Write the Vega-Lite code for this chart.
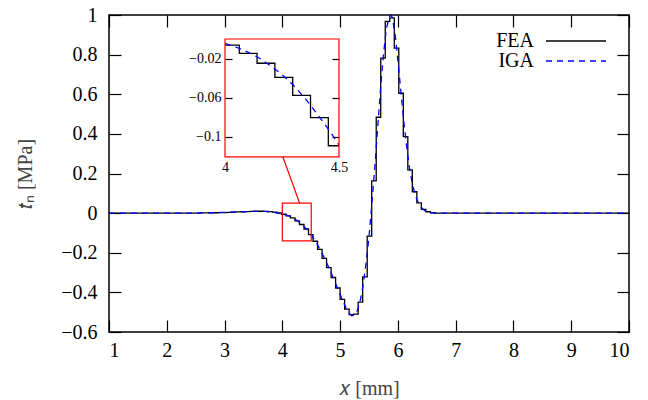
{
  "$schema": "https://vega.github.io/schema/vega-lite/v6.json",
  "width": 520,
  "height": 317,
  "autosize": {"type": "none"},
  "padding": {"left": 109, "top": 15, "right": 19, "bottom": 68},
  "background": "white",
  "config": {
    "view": {"stroke": "#000000", "strokeWidth": 1.5},
    "font": "Liberation Serif",
    "axis": {"labelFont": "Liberation Serif", "titleFont": "Liberation Serif", "labelColor": "#000000", "tickColor": "#000000", "tickWidth": 1.2, "grid": false, "domain": false, "titleFontWeight": "normal"},
    "legend": {"labelFont": "Liberation Serif", "labelFontSize": 20, "labelColor": "#000000"}
  },
  "datasets": {
    "fea": [
      {"x": 1, "y": 0}, {"x": 2.5, "y": 0}, {"x": 2.578125, "y": 0.001}, {"x": 2.734375, "y": 0.002}, {"x": 2.890625, "y": 0.003},
      {"x": 3.046875, "y": 0.004}, {"x": 3.125, "y": 0.005}, {"x": 3.203125, "y": 0.006}, {"x": 3.28125, "y": 0.007},
      {"x": 3.359375, "y": 0.008}, {"x": 3.4375, "y": 0.009}, {"x": 3.515625, "y": 0.0095}, {"x": 3.59375, "y": 0.0095},
      {"x": 3.671875, "y": 0.009}, {"x": 3.75, "y": 0.008}, {"x": 3.828125, "y": 0.005}, {"x": 3.90625, "y": 0.001},
      {"x": 3.984375, "y": -0.0057}, {"x": 4.0, "y": -0.0057}, {"x": 4.0625, "y": -0.0142}, {"x": 4.140625, "y": -0.0244},
      {"x": 4.21875, "y": -0.0388}, {"x": 4.296875, "y": -0.0573}, {"x": 4.375, "y": -0.0802}, {"x": 4.453125, "y": -0.109},
      {"x": 4.5, "y": -0.109}, {"x": 4.53125, "y": -0.142}, {"x": 4.609375, "y": -0.183}, {"x": 4.6875, "y": -0.228},
      {"x": 4.765625, "y": -0.275}, {"x": 4.84375, "y": -0.325}, {"x": 4.921875, "y": -0.378}, {"x": 5.0, "y": -0.435},
      {"x": 5.078125, "y": -0.485}, {"x": 5.15625, "y": -0.512}, {"x": 5.234375, "y": -0.51}, {"x": 5.3125, "y": -0.449},
      {"x": 5.390625, "y": -0.322}, {"x": 5.46875, "y": -0.116}, {"x": 5.546875, "y": 0.163}, {"x": 5.625, "y": 0.484},
      {"x": 5.703125, "y": 0.782}, {"x": 5.78125, "y": 0.968}, {"x": 5.859375, "y": 0.985}, {"x": 5.9375, "y": 0.833},
      {"x": 6.015625, "y": 0.605}, {"x": 6.09375, "y": 0.386}, {"x": 6.171875, "y": 0.218}, {"x": 6.25, "y": 0.108},
      {"x": 6.328125, "y": 0.052}, {"x": 6.40625, "y": 0.019}, {"x": 6.484375, "y": 0.007}, {"x": 6.5625, "y": 0.002},
      {"x": 6.640625, "y": 0}, {"x": 10, "y": 0}
    ],
    "iga": [
      {"x": 1, "y": 0}, {"x": 2, "y": 0}, {"x": 2.5, "y": 0.0005}, {"x": 2.8, "y": 0.002}, {"x": 3.0, "y": 0.004},
      {"x": 3.2, "y": 0.006}, {"x": 3.4, "y": 0.008}, {"x": 3.6, "y": 0.0095}, {"x": 3.7, "y": 0.009}, {"x": 3.8, "y": 0.006},
      {"x": 3.9, "y": 0.001}, {"x": 4.0, "y": -0.004}, {"x": 4.05, "y": -0.008}, {"x": 4.1, "y": -0.013}, {"x": 4.15, "y": -0.019},
      {"x": 4.2, "y": -0.027}, {"x": 4.25, "y": -0.036}, {"x": 4.3, "y": -0.047}, {"x": 4.35, "y": -0.06}, {"x": 4.4, "y": -0.075},
      {"x": 4.45, "y": -0.091}, {"x": 4.5, "y": -0.108}, {"x": 4.55, "y": -0.13}, {"x": 4.6, "y": -0.155}, {"x": 4.65, "y": -0.182},
      {"x": 4.7, "y": -0.21}, {"x": 4.75, "y": -0.24}, {"x": 4.8, "y": -0.272}, {"x": 4.85, "y": -0.305}, {"x": 4.9, "y": -0.34},
      {"x": 4.95, "y": -0.375}, {"x": 5.0, "y": -0.41}, {"x": 5.05, "y": -0.445}, {"x": 5.1, "y": -0.478}, {"x": 5.15, "y": -0.503},
      {"x": 5.2, "y": -0.518}, {"x": 5.25, "y": -0.515}, {"x": 5.3, "y": -0.49}, {"x": 5.35, "y": -0.44}, {"x": 5.4, "y": -0.36},
      {"x": 5.45, "y": -0.25}, {"x": 5.5, "y": -0.12}, {"x": 5.55, "y": 0.05}, {"x": 5.6, "y": 0.23}, {"x": 5.65, "y": 0.43},
      {"x": 5.7, "y": 0.63}, {"x": 5.75, "y": 0.8}, {"x": 5.8, "y": 0.93}, {"x": 5.85, "y": 0.99}, {"x": 5.88, "y": 1.0},
      {"x": 5.9, "y": 0.99}, {"x": 5.95, "y": 0.91}, {"x": 6.0, "y": 0.77}, {"x": 6.05, "y": 0.62}, {"x": 6.1, "y": 0.47},
      {"x": 6.15, "y": 0.34}, {"x": 6.2, "y": 0.23}, {"x": 6.25, "y": 0.15}, {"x": 6.3, "y": 0.09}, {"x": 6.35, "y": 0.055},
      {"x": 6.4, "y": 0.03}, {"x": 6.45, "y": 0.016}, {"x": 6.5, "y": 0.008}, {"x": 6.55, "y": 0.003}, {"x": 6.6, "y": 0.001},
      {"x": 6.7, "y": 0}, {"x": 10, "y": 0}
    ],
    "zoombox": [{"x": 4, "x2": 4.5, "y": -0.14, "y2": 0.05}],
    "connector": [{"x": 4.01, "y": 0.283, "x2": 4.3, "y2": 0.05}],
    "insetbox": [{"x": 4, "x2": 4.5, "y": -0.1205, "y2": 0.0005}]
  },
  "resolve": {"scale": {"x": "independent", "y": "independent"}},
  "layer": [
    {
      "data": {"name": "fea"},
      "mark": {"type": "line", "interpolate": "step-after", "strokeWidth": 1.3},
      "encoding": {
        "x": {"field": "x", "type": "quantitative", "scale": {"domain": [1, 10], "nice": false, "zero": false},
          "axis": {"orient": "bottom", "values": [1, 2, 3, 4, 5, 6, 7, 8, 9, 10], "format": "d", "labelFontSize": 20, "tickSize": -12, "labelPadding": 20, "title": "𝑥 [mm]", "titleFontSize": 20, "titleColor": "#444444", "titlePadding": 18}},
        "y": {"field": "y", "type": "quantitative", "scale": {"domain": [-0.6, 1], "nice": false, "zero": false},
          "axis": {"orient": "left", "values": [-0.6, -0.4, -0.2, 0, 0.2, 0.4, 0.6, 0.8, 1], "format": ".1~f", "labelFontSize": 20, "tickSize": -12, "labelPadding": 24, "title": "𝑡ₙ [MPa]", "titleFontSize": 20, "titleColor": "#444444", "titlePadding": 25}},
        "color": {"datum": "FEA", "type": "nominal", "scale": {"domain": ["FEA", "IGA"], "range": ["#000000", "#0000ff"]},
          "legend": {"orient": "none", "legendX": 436, "legendY": -5, "values": ["FEA"], "title": null, "symbolType": "stroke", "symbolSize": 3600, "symbolStrokeWidth": 1.4, "labelAlign": "right", "labelOffset": -73, "padding": 0}},
        "strokeDash": {"datum": "FEA", "type": "nominal", "scale": {"domain": ["IGA", "FEA"], "range": [[6, 5], [1, 0]]},
          "legend": {"orient": "none", "legendX": 436, "legendY": 15, "values": ["IGA"], "title": null, "symbolType": "stroke", "symbolSize": 3600, "symbolStrokeWidth": 1.4, "symbolStrokeColor": "#0000ff", "labelAlign": "right", "labelOffset": -73, "padding": 0}}
      }
    },
    {
      "data": {"name": "iga"},
      "mark": {"type": "line", "strokeWidth": 1.3},
      "encoding": {
        "x": {"field": "x", "type": "quantitative", "scale": {"domain": [1, 10], "nice": false, "zero": false},
          "axis": {"orient": "top", "values": [1, 2, 3, 4, 5, 6, 7, 8, 9, 10], "labels": false, "tickSize": -12, "title": null}},
        "y": {"field": "y", "type": "quantitative", "scale": {"domain": [-0.6, 1], "nice": false, "zero": false},
          "axis": {"orient": "right", "values": [-0.6, -0.4, -0.2, 0, 0.2, 0.4, 0.6, 0.8, 1], "labels": false, "tickSize": -12, "title": null}},
        "color": {"datum": "IGA", "type": "nominal"},
        "strokeDash": {"datum": "IGA", "type": "nominal"}
      }
    },
    {
      "data": {"name": "zoombox"},
      "mark": {"type": "rect", "fill": "transparent", "stroke": "#ff0000", "strokeWidth": 1.2},
      "encoding": {
        "x": {"field": "x", "type": "quantitative", "scale": {"domain": [1, 10], "nice": false, "zero": false}, "axis": null},
        "x2": {"field": "x2"},
        "y": {"field": "y", "type": "quantitative", "scale": {"domain": [-0.6, 1], "nice": false, "zero": false}, "axis": null},
        "y2": {"field": "y2"}
      }
    },
    {
      "data": {"name": "connector"},
      "mark": {"type": "rule", "color": "#ff0000", "strokeWidth": 1.2},
      "encoding": {
        "x": {"field": "x", "type": "quantitative", "scale": {"domain": [1, 10], "nice": false, "zero": false}, "axis": null},
        "x2": {"field": "x2"},
        "y": {"field": "y", "type": "quantitative", "scale": {"domain": [-0.6, 1], "nice": false, "zero": false}, "axis": null},
        "y2": {"field": "y2"}
      }
    },
    {
      "data": {"name": "fea"},
      "transform": [{"filter": "datum.x >= 4 && datum.x <= 4.5"}],
      "mark": {"type": "line", "interpolate": "step-after", "strokeWidth": 1.3, "color": "#000000"},
      "encoding": {
        "x": {"field": "x", "type": "quantitative", "scale": {"domain": [3.4912, 5.7719], "nice": false, "zero": false}, "axis": null},
        "y": {"field": "y", "type": "quantitative", "scale": {"domain": [-0.3, 0.0251], "nice": false, "zero": false}, "axis": null}
      }
    },
    {
      "data": {"name": "iga"},
      "transform": [{"filter": "datum.x >= 4 && datum.x <= 4.5"}],
      "mark": {"type": "line", "strokeWidth": 1.3, "color": "#0000ff", "strokeDash": [6, 5]},
      "encoding": {
        "x": {"field": "x", "type": "quantitative", "scale": {"domain": [3.4912, 5.7719], "nice": false, "zero": false}, "axis": null},
        "y": {"field": "y", "type": "quantitative", "scale": {"domain": [-0.3, 0.0251], "nice": false, "zero": false},
          "axis": {"orient": "right", "offset": -290, "values": [-0.1, -0.06, -0.02], "labels": false, "tickSize": -7, "title": null}}
      }
    },
    {
      "data": {"name": "insetbox"},
      "mark": {"type": "rect", "fill": "transparent", "stroke": "#ff0000", "strokeWidth": 1.2},
      "encoding": {
        "x": {"field": "x", "type": "quantitative", "scale": {"domain": [3.4912, 5.7719], "nice": false, "zero": false},
          "axis": {"orient": "bottom", "offset": -175, "values": [4, 4.5], "format": ".2~f", "ticks": false, "labelFontSize": 14, "labelPadding": 3, "title": null}},
        "x2": {"field": "x2"},
        "y": {"field": "y", "type": "quantitative", "scale": {"domain": [-0.3, 0.0251], "nice": false, "zero": false},
          "axis": {"orient": "left", "offset": -116, "values": [-0.1, -0.06, -0.02], "format": ".2~f", "tickSize": -7, "labelFontSize": 14, "labelPadding": 11, "title": null}},
        "y2": {"field": "y2"}
      }
    }
  ]
}
